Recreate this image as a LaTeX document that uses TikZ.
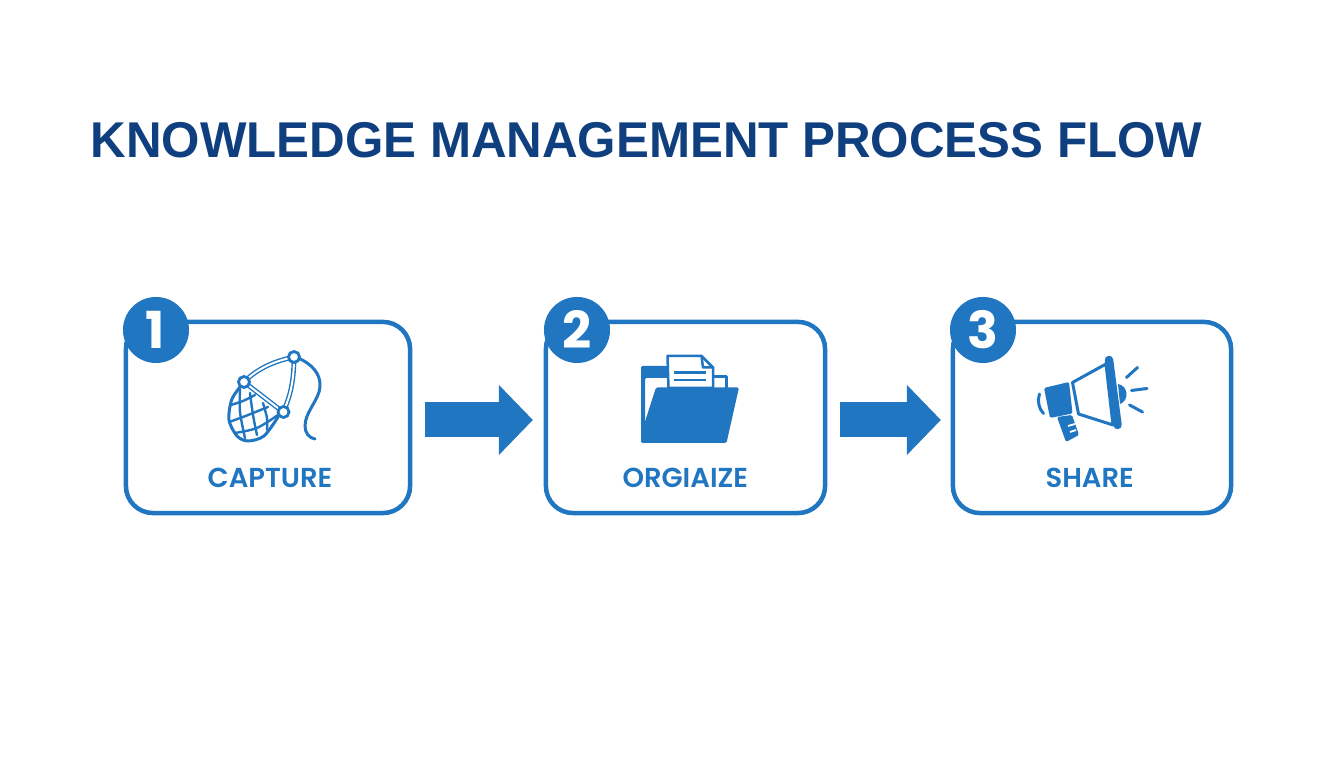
\documentclass[tikz,border=0pt]{standalone}
\usepackage{fontspec}
\setmainfont{Liberation Sans}
\newfontfamily\titlefont[FakeStretch=0.98]{Liberation Sans}
\newfontfamily\stepfont[BoldFont={Poppins SemiBold}]{Poppins}
\newfontfamily\numberfont{Poppins}
\usetikzlibrary{arrows.meta}

\definecolor{stepblue}{HTML}{2176C1}
\definecolor{titleblue}{HTML}{103F80}

\begin{document}
\begin{tikzpicture}[x=0.01cm,y=-0.01cm,
		stepbox/.style={draw=stepblue,line width=0.045cm,fill=white,rounded corners=0.27cm,minimum width=2.84cm,minimum height=1.91cm,outer sep=0,inner sep=0},
		stepbadge/.style={fill=stepblue,circle,minimum size=0.66cm,inner sep=0,outer sep=0},
		stepnumber/.style={anchor=base,text=white,inner sep=0,font=\numberfont\bfseries\fontsize{14.5}{16}\selectfont},
		steplabel/.style={anchor=base,text=stepblue,inner sep=0,font=\stepfont\bfseries\fontsize{7.8}{9}\selectfont},
		flowarrow/.style={draw=stepblue,line width=0.35cm,-{Triangle[length=0.34cm,width=0.68cm]}},
		iconline/.style={draw=stepblue,line width=0.03cm,line cap=round,line join=round},
		netline/.style={iconline,line width=0.024cm},
		netdouble/.style={stepblue,line width=0.014cm,double=white,double distance=0.02cm},
		netknot/.style={fill=white,draw=stepblue,line width=0.028cm},
		iconfill/.style={fill=stepblue,rounded corners=0.015cm}
	]
	\useasboundingbox [fill=white] (0,0) rectangle (1344,768);
	
	\node [anchor=base west,inner sep=0,text=titleblue,font=\titlefont\bfseries\fontsize{14.3}{18}\selectfont] (title) at (90,157.5) {KNOWLEDGE MANAGEMENT PROCESS FLOW};
	
	\node [stepbox] (capturebox) at (268,417.5) {};
	\node [stepbox,minimum width=2.79cm] (organizebox) at (685.5,417.5) {};
	\node [stepbox,minimum width=2.78cm] (sharebox) at (1092,417.5) {};
	
	\node [stepbadge] (badge1) at (156,330) {};
	\node [stepbadge] (badge2) at (577,330) {};
	\node [stepbadge] (badge3) at (983,330) {};
	\node [stepnumber] (number1) at (155,348.3) {1};
	\node [stepnumber] (number2) at (577,348.3) {2};
	\node [stepnumber] (number3) at (983,348.3) {3};
	
	\node [steplabel] (capturelabel) at (270,488) {CAPTURE};
	\node [steplabel] (organizelabel) at (685.3,488) {ORGIAIZE};
	\node [steplabel] (sharelabel) at (1089.7,488) {SHARE};
	
	\draw [flowarrow,shorten <=0.15cm,shorten >=0.13cm] ([yshift=-0.025cm]capturebox.east) -- ([yshift=-0.025cm]organizebox.west);
	\draw [flowarrow,shorten <=0.15cm,shorten >=0.12cm] ([yshift=-0.025cm]organizebox.east) -- ([yshift=-0.025cm]sharebox.west);
	
	% net
	\draw [iconline] (298,358) .. controls (312,364) and (321,374) .. (320,387) .. controls (319,400) and (305,412) .. (305,426) .. controls (305,433) and (309,438) .. (315,439);
	\draw [iconline] plot [smooth] coordinates {(244,382) (232,399) (229,420) (237,436) (248,441) (264,436) (278,417)};
	\draw [netline] plot [smooth] coordinates {(231,405) (243,401) (255,395)};
	\draw [netline] plot [smooth] coordinates {(229,422) (243,417) (268,407)};
	\draw [netline] plot [smooth] coordinates {(235,433) (257,428) (278,415)};
	\draw [netline] plot [smooth] coordinates {(240,388) (240,412) (245,438)};
	\draw [netline] plot [smooth] coordinates {(250,393) (253,415) (257,435)};
	\draw [netline] plot [smooth] coordinates {(263,403) (267,418) (267,430)};
	\draw [netdouble] (244,382) .. controls (258,368) and (275,361) .. (294,357);
	\draw [netdouble] (294,357) .. controls (294,378) and (291,396) .. (283,412);
	\draw [netdouble] (244,382) -- (283,412);
	\filldraw [netknot] (294,357) circle [radius=5.5];
	\filldraw [netknot] (244,382) circle [radius=5.5];
	\filldraw [netknot] (283.5,412) circle [radius=5.5];
	
	% folder
	\fill [iconfill] (641,366) -- (668,366) -- (668,378) -- (645,378) -- (645,443) -- (641,443) -- cycle;
	\draw [iconline] (713,377) -- (726,377) -- (726,388);
	\filldraw [fill=white,draw=stepblue,line width=0.025cm,line join=round] (667.5,356) -- (701.5,356) -- (713,367.5) -- (713,388) -- (668.5,388) -- cycle;
	\draw [iconline,line width=0.025cm] (701.5,356) -- (703,367.5) -- (713,367.5);
	\draw [iconline,line width=0.025cm,line cap=butt] (674,372.5) -- (705.5,372.5);
	\draw [iconline,line width=0.025cm,line cap=butt] (674,380) -- (705.5,380);
	\fill [iconfill] (656,387.5) -- (739,387.5) -- (726.5,443) -- (641,443) -- (641,434) -- cycle;
	
	% megaphone
	\filldraw [fill=white,draw=stepblue,line width=0.03cm,line join=round] (1106,364) -- (1072.5,382.5) -- (1078.5,414) -- (1113,425) -- cycle;
	\fill [stepblue] (1118,384) .. controls (1129,386) and (1129,401) .. (1120,404) -- cycle;
	\draw [iconline,line width=0.085cm] (1109,360) -- (1117.5,425);
	\fill [iconfill] (1044,388) -- (1069,382) -- (1072.5,413.5) -- (1050,418) -- cycle;
	\draw [iconline] (1039.5,394) .. controls (1037,401) and (1039,409) .. (1043.5,413.5);
	\fill [iconfill] (1057,417) -- (1072,415) -- (1079,435) -- (1066,442) -- cycle;
	\draw [white,line width=0.018cm] (1068,426) -- (1075,424);
	\draw [white,line width=0.018cm] (1070,432) -- (1076,430);
	\draw [iconline] (1126.5,377.5) -- (1137.5,367.5);
	\draw [iconline] (1131.5,390.5) -- (1147,388.5);
	\draw [iconline] (1129.5,405) -- (1142.5,412);
\end{tikzpicture}
\end{document}
